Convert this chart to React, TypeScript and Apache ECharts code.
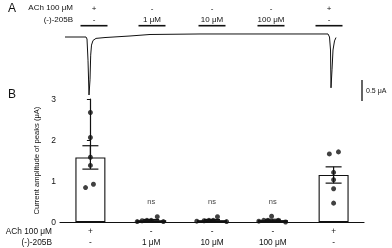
import React, { useEffect, useRef } from "react";
import * as echarts from "echarts";

// ---- data ----
const achRow = ["+", "-", "-", "-", "+"];
const drugRow = ["-", "1 μM", "10 μM", "100 μM", "-"];
const sigLabels = ["", "ns", "ns", "ns", ""];
const yTicks = [0, 1, 2, 3];

const peaks: number[][] = [
  [2.67, 2.06, 1.58, 1.38, 0.84, 0.92],
  [0.01, 0.03, 0.04, 0.04, 0.13, 0.01],
  [0.02, 0.03, 0.04, 0.04, 0.13, 0.01],
  [0.02, 0.04, 0.04, 0.14, 0.04, 0.0],
  [1.66, 1.71, 1.21, 1.03, 0.81, 0.46],
];
const jitter: number[][] = [
  [0, 0, 0, 0, -0.08, 0.05],
  [-0.23, -0.15, -0.07, 0, 0.1, 0.2],
  [-0.25, -0.13, -0.05, 0.02, 0.09, 0.24],
  [-0.23, -0.15, -0.08, -0.02, 0.09, 0.21],
  [-0.07, 0.08, 0, 0, 0, 0],
];

// current trace (time in s, current in μA)
const traceTime = [0, 21, 22, 23, 24, 25, 25.7, 26.5, 28, 31, 40, 65, 85, 135, 263, 264.5, 265.5, 266, 267, 268, 269.5, 271];
const traceCurrent = [-0.067, -0.067, -0.115, -0.62, -1.45, -1.09, -0.5, -0.26, -0.15, -0.1, -0.08, -0.043, -0.007, 0.005, 0.005, -0.067, -0.377, -1.28, -0.85, -0.377, -0.16, -0.08];
const scaleBarValue = 0.5;

const mean = (a: number[]) => a.reduce((s, v) => s + v, 0) / a.length;
const sem = (a: number[]) => {
  const m = mean(a);
  const sd = Math.sqrt(a.reduce((s, v) => s + (v - m) * (v - m), 0) / (a.length - 1));
  return sd / Math.sqrt(a.length);
};

const FONT = "Liberation Sans, Arial, sans-serif";
const INK = "#111";

export default function App() {
  const ref = useRef<HTMLDivElement>(null);
  useEffect(() => {
    if (!ref.current) return;
    const chart = echarts.init(ref.current, undefined, { renderer: "svg" });
    const means = peaks.map(mean);
    const sems = peaks.map(sem);
    const cats = achRow.map((a, i) => a + "\n" + drugRow[i]);
    const scatterData: number[][] = [];
    peaks.forEach((arr, i) => arr.forEach((v, j) => scatterData.push([i + jitter[i][j], v])));

    const topColX = [94, 152, 212, 271, 329];
    const graphic: any[] = [
      { type: "text", x: 8, y: 1.5, style: { text: "A", font: `12px ${FONT}`, fill: INK } },
      { type: "text", x: 8, y: 87.5, style: { text: "B", font: `12px ${FONT}`, fill: INK } },
      { type: "text", x: 73, y: 7.5, style: { text: "ACh 100 μM", font: `8px ${FONT}`, fill: INK, align: "right", verticalAlign: "middle" } },
      { type: "text", x: 73, y: 19.5, style: { text: "(-)-205B", font: `8px ${FONT}`, fill: INK, align: "right", verticalAlign: "middle" } },
      { type: "text", x: 52, y: 230.5, style: { text: "ACh 100 μM", font: `8.3px ${FONT}`, fill: INK, align: "right", verticalAlign: "middle" } },
      { type: "text", x: 52, y: 241.5, style: { text: "(-)-205B", font: `8.3px ${FONT}`, fill: INK, align: "right", verticalAlign: "middle" } },
    ];
    topColX.forEach((cx, i) => {
      graphic.push({ type: "text", x: cx, y: 8, style: { text: achRow[i], font: `8px ${FONT}`, fill: INK, align: "center", verticalAlign: "middle" } });
      graphic.push({ type: "text", x: cx, y: 19.5, style: { text: drugRow[i], font: `8px ${FONT}`, fill: INK, align: "center", verticalAlign: "middle" } });
      graphic.push({ type: "line", shape: { x1: cx - 13.5, y1: 25.7, x2: cx + 13.5, y2: 25.7 }, style: { stroke: INK, lineWidth: 1.6 } });
    });

    chart.setOption({
      animation: false,
      textStyle: { fontFamily: FONT },
      graphic,
      grid: [
        { left: 60, right: 28, top: 99, bottom: 26, containLabel: false },
        { left: 65, width: 272, top: 30, height: 70, containLabel: false },
      ],
      xAxis: [
        {
          type: "category", gridIndex: 0, data: cats,
          axisLine: { lineStyle: { color: INK, width: 1.2 } },
          axisTick: { show: false },
          axisLabel: { color: INK, fontSize: 8.3, lineHeight: 11, margin: 3, interval: 0 },
        },
        { type: "value", gridIndex: 0, min: -0.5, max: 4.5, show: false },
        { type: "value", gridIndex: 1, min: 0, max: 272, show: false },
      ],
      yAxis: [
        {
          type: "value", gridIndex: 0, min: 0, max: 3, interval: 1,
          name: "Current amplitude of peaks (μA)", nameLocation: "middle", nameGap: 15,
          nameTextStyle: { color: INK, fontSize: 7.6 },
          axisLine: { show: true, lineStyle: { color: INK, width: 1.2 } },
          axisTick: { show: true, length: 3.5, lineStyle: { color: INK } },
          axisLabel: { color: INK, fontSize: 8.5, margin: 4, formatter: (v: number) => (yTicks.includes(v) ? String(v) : "") },
          splitLine: { show: false },
        },
        { type: "value", gridIndex: 1, min: -1.57, max: 0.1, show: false },
      ],
      series: [
        {
          type: "bar", xAxisIndex: 0, yAxisIndex: 0, data: means, barWidth: 30,
          itemStyle: { color: "#fff", borderColor: INK, borderWidth: 1.1 },
          z: 2,
        },
        {
          type: "custom", xAxisIndex: 0, yAxisIndex: 0, z: 3,
          data: means.map((m, i) => [i, m, sems[i]]),
          renderItem: (params: any, api: any) => {
            const i = api.value(0), m = api.value(1), s = api.value(2);
            const top = api.coord([i, m + s]);
            const bot = api.coord([i, m - s]);
            const hw = 8;
            const st = { stroke: INK, lineWidth: 1.2 };
            return {
              type: "group",
              children: [
                { type: "line", shape: { x1: top[0], y1: top[1], x2: bot[0], y2: bot[1] }, style: st },
                { type: "line", shape: { x1: top[0] - hw, y1: top[1], x2: top[0] + hw, y2: top[1] }, style: st },
                { type: "line", shape: { x1: bot[0] - hw, y1: bot[1], x2: bot[0] + hw, y2: bot[1] }, style: st },
              ],
            };
          },
        },
        {
          type: "custom", xAxisIndex: 0, yAxisIndex: 0, z: 3,
          data: sigLabels.map((s, i) => [i, 0, s]),
          renderItem: (params: any, api: any) => {
            const p = api.coord([api.value(0), 0]);
            const txt = sigLabels[params.dataIndex];
            return { type: "text", x: p[0], y: p[1] - 21, style: { text: txt, font: `7.5px ${FONT}`, fill: "#444", align: "center", verticalAlign: "middle" } };
          },
        },
        {
          type: "scatter", xAxisIndex: 1, yAxisIndex: 0, data: scatterData, symbolSize: 5,
          itemStyle: { color: INK }, z: 4,
        },
        {
          type: "line", xAxisIndex: 2, yAxisIndex: 1,
          data: traceTime.map((t, i) => [t, traceCurrent[i]]),
          showSymbol: false, lineStyle: { color: INK, width: 1 }, clip: false,
        },
        {
          type: "custom", xAxisIndex: 2, yAxisIndex: 1, clip: false,
          data: [[297, -1.093, scaleBarValue]],
          renderItem: (params: any, api: any) => {
            const x = api.value(0), y = api.value(1), v = api.value(2);
            const a = api.coord([x, y]);
            const b = api.coord([x, y - v]);
            return {
              type: "group",
              children: [
                { type: "line", shape: { x1: a[0], y1: a[1], x2: b[0], y2: b[1] }, style: { stroke: INK, lineWidth: 1.3 } },
                { type: "text", x: a[0] + 4, y: (a[1] + b[1]) / 2, style: { text: `${v} μA`, font: `7px ${FONT}`, fill: INK, verticalAlign: "middle" } },
              ],
            };
          },
        },
      ],
    });
    return () => chart.dispose();
  }, []);
  return <div ref={ref} style={{ position: "fixed", left: 0, top: 0, width: 392, height: 248 }} />;
}
